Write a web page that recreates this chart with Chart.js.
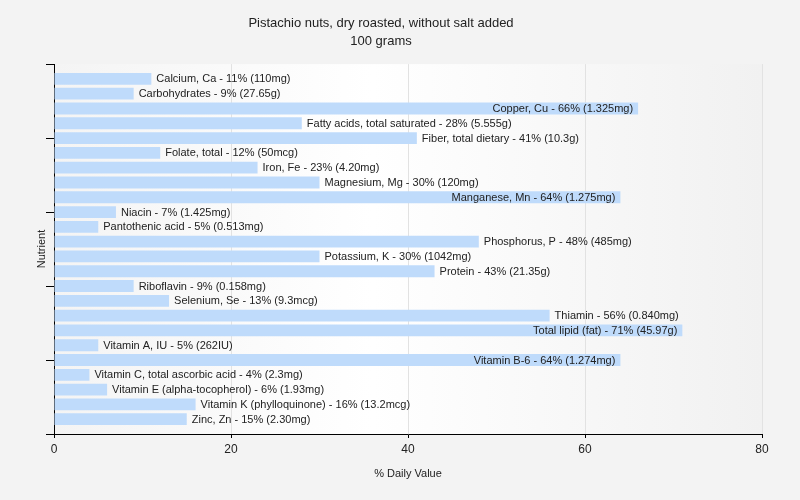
<!DOCTYPE html>
<html><head><meta charset="utf-8">
<script src="https://cdn.jsdelivr.net/npm/chart.js@4/dist/chart.umd.min.js"></script>
<style>html,body{margin:0;padding:0;background:#f3f3f3;} #wrap{width:800px;height:500px;position:relative;}</style>
</head><body><div id="wrap"><canvas id="c"></canvas></div>
<script>
const titleLines = ['Pistachio nuts, dry roasted, without salt added', '100 grams'];
const nutrients = ['Calcium, Ca','Carbohydrates','Copper, Cu','Fatty acids, total saturated','Fiber, total dietary','Folate, total','Iron, Fe','Magnesium, Mg','Manganese, Mn','Niacin','Pantothenic acid','Phosphorus, P','Potassium, K','Protein','Riboflavin','Selenium, Se','Thiamin','Total lipid (fat)','Vitamin A, IU','Vitamin B-6','Vitamin C, total ascorbic acid','Vitamin E (alpha-tocopherol)','Vitamin K (phylloquinone)','Zinc, Zn'];
const values = [11,9,66,28,41,12,23,30,64,7,5,48,30,43,9,13,56,71,5,64,4,6,16,15];
const amounts = ['110mg','27.65g','1.325mg','5.555g','10.3g','50mcg','4.20mg','120mg','1.275mg','1.425mg','0.513mg','485mg','1042mg','21.35g','0.158mg','9.3mcg','0.840mg','45.97g','262IU','1.274mg','2.3mg','1.93mg','13.2mcg','2.30mg'];
const xTicks = [0,20,40,60,80];
const xTitle = '% Daily Value';
const yTitle = 'Nutrient';

const FONT = '"Liberation Sans", Arial, sans-serif';
const catLabels = [''].concat(nutrients, ['']);
const catData = [null].concat(values, [null]);

const bgPlugin = {
  id: 'bg',
  beforeDraw(chart) {
    const {ctx, chartArea: a, width, height} = chart;
    ctx.save();
    ctx.fillStyle = '#f3f3f3';
    ctx.fillRect(0, 0, width, height);
    const g = ctx.createLinearGradient(a.left, 0, a.right, 0);
    g.addColorStop(0, '#f4f4f4');
    g.addColorStop(0.45, '#ffffff');
    g.addColorStop(1, '#f1f1f1');
    ctx.fillStyle = g;
    ctx.fillRect(a.left, a.top, a.right - a.left, a.bottom - a.top);
    ctx.restore();
  }
};

const labelPlugin = {
  id: 'barLabels',
  afterDatasetsDraw(chart) {
    const {ctx, chartArea} = chart;
    const meta = chart.getDatasetMeta(0);
    ctx.save();
    ctx.font = '11px ' + FONT;
    ctx.fillStyle = '#222';
    ctx.textBaseline = 'middle';
    meta.data.forEach((bar, i) => {
      const idx = i - 1;
      if (idx < 0 || idx >= nutrients.length) return;
      const text = nutrients[idx] + ' - ' + values[idx] + '% (' + amounts[idx] + ')';
      const w = ctx.measureText(text).width;
      if (bar.x + 5 + w <= chartArea.right) {
        ctx.textAlign = 'left';
        ctx.fillText(text, bar.x + 5, bar.y + 0.5);
      } else {
        ctx.textAlign = 'right';
        ctx.fillText(text, bar.x - 5, bar.y + 0.5);
      }
    });
    ctx.restore();
  }
};

new Chart(document.getElementById('c'), {
  type: 'bar',
  data: {
    labels: catLabels,
    datasets: [{
      data: catData,
      backgroundColor: '#bfdbfb',
      borderWidth: 0,
      barPercentage: 0.8,
      categoryPercentage: 1.0
    }]
  },
  options: {
    indexAxis: 'y',
    responsive: true,
    maintainAspectRatio: false,
    animation: false,
    layout: { padding: { left: 0, right: 38, top: 0, bottom: 0 } },
    plugins: {
      legend: { display: false },
      tooltip: { enabled: false },
      title: {
        display: true,
        text: titleLines,
        color: '#222',
        font: { family: FONT, size: 13, weight: 'normal', lineHeight: 1.35 },
        padding: { top: 15, bottom: 14 }
      }
    },
    scales: {
      x: {
        type: 'linear',
        min: 0, max: 80,
        afterBuildTicks(scale) { scale.ticks = xTicks.map(v => ({value: v})); },
        afterFit(scale) { scale.height = 66; },
        grid: { color: '#e2e2e2', tickColor: '#000', tickLength: 4, drawTicks: true },
        border: { display: true, color: '#000', width: 1 },
        ticks: { color: '#222', font: { family: FONT, size: 12 }, padding: 4 },
        title: { display: true, text: xTitle, color: '#222', font: { family: FONT, size: 11 }, padding: { top: 0, bottom: 19 } }
      },
      y: {
        type: 'category',
        offset: false,
        afterFit(scale) { scale.width = 54; },
        grid: {
          drawOnChartArea: false,
          drawTicks: true,
          tickLength: 8,
          offset: false,
          tickColor: (ctx) => (ctx.index % 5 === 0 ? '#000' : 'rgba(0,0,0,0)')
        },
        border: { display: true, color: '#000', width: 1 },
        ticks: { display: false, autoSkip: false },
        title: { display: true, text: yTitle, color: '#222', font: { family: FONT, size: 11 }, padding: { top: 35, bottom: 0 } }
      }
    }
  },
  plugins: [bgPlugin, labelPlugin]
});
</script>
</body></html>
